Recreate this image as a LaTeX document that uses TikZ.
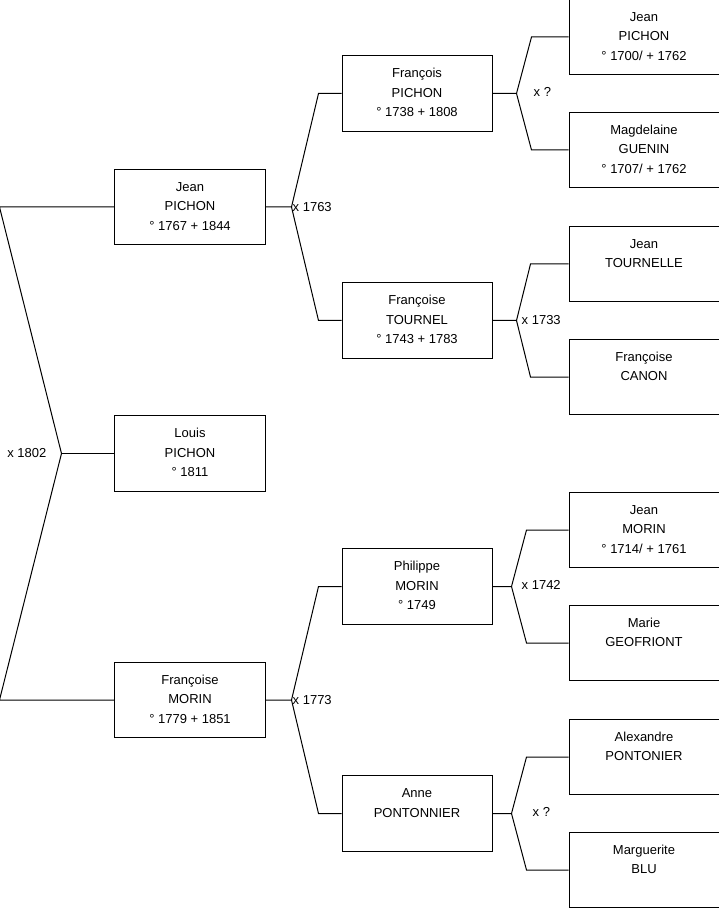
\documentclass[tikz,border=0pt]{standalone}
\usepackage{fontspec}
\setmainfont{Liberation Sans}
\usetikzlibrary{positioning}

\newcommand{\pers}[3]{\strut#1\\\strut#2\\\strut#3}

\begin{document}
\begin{tikzpicture}[
    x=1pt, y=1pt,
    font=\fontsize{13pt}{19.5pt}\selectfont,
    personne/.style={draw, line width=1pt, align=center, inner sep=0pt,
                     minimum width=150pt, minimum height=75.5pt},
    lien/.style={line width=1pt},
    mariage/.style={anchor=west, inner sep=1pt},
    node distance=76pt
  ]
    \useasboundingbox (-190,-454.5) rectangle (529,453.5);
    % enfant et parents
    \node[personne] (lpi) {\pers{Louis}{PICHON}{° 1811}};
    \node[personne, above=170pt of lpi] (jpi) {\pers{Jean}{PICHON}{° 1767 + 1844}};
    \node[personne, below=170pt of lpi] (fmo) {\pers{Françoise}{MORIN}{° 1779 + 1851}};
    % grands-parents
    \node[personne, right=of jpi, yshift=113.5pt]  (fpi) {\pers{François}{PICHON}{° 1738 + 1808}};
    \node[personne, right=of jpi, yshift=-113.5pt] (fto) {\pers{Françoise}{TOURNEL}{° 1743 + 1783}};
    \node[personne, right=of fmo, yshift=113.5pt]  (pmo) {\pers{Philippe}{MORIN}{° 1749}};
    \node[personne, right=of fmo, yshift=-113.5pt] (apt) {\pers{Anne}{PONTONNIER}{}};
    % arriere-grands-parents
    \node[personne, right=of fpi, yshift=56.5pt]  (jpp) {\pers{Jean}{PICHON}{° 1700/ + 1762}};
    \node[personne, right=of fpi, yshift=-56.5pt] (mgu) {\pers{Magdelaine}{GUENIN}{° 1707/ + 1762}};
    \node[personne, right=of fto, yshift=56.5pt]  (jto) {\pers{Jean}{TOURNELLE}{}};
    \node[personne, right=of fto, yshift=-56.5pt] (fca) {\pers{Françoise}{CANON}{}};
    \node[personne, right=of pmo, yshift=56.5pt]  (jmo) {\pers{Jean}{MORIN}{° 1714/ + 1761}};
    \node[personne, right=of pmo, yshift=-56.5pt] (mge) {\pers{Marie}{GEOFRIONT}{}};
    \node[personne, right=of apt, yshift=56.5pt]  (apo) {\pers{Alexandre}{PONTONIER}{}};
    \node[personne, right=of apt, yshift=-56.5pt] (mbl) {\pers{Marguerite}{BLU}{}};
    % mariage 1802
    \coordinate (g1) at ([xshift=-115pt]jpi.west);
    \coordinate (m1) at ([xshift=-53pt]lpi.west);
    \coordinate (g2) at ([xshift=-115pt]fmo.west);
    \draw[lien] (jpi.west) -- (g1) -- (m1) -- (g2) -- (fmo.west);
    \draw[lien] (m1) -- (lpi.west);
    \node[anchor=east, inner sep=1pt] (x1802) at ([xshift=-14pt]m1) {x 1802};
    % mariage 1763
    \coordinate (m2) at ([xshift=26pt]jpi.east);
    \coordinate (g3) at ([xshift=-23pt]fpi.west);
    \coordinate (g4) at ([xshift=-23pt]fto.west);
    \draw[lien] (jpi.east) -- (m2) -- (g3) -- (fpi.west);
    \draw[lien] (m2) -- (g4) -- (fto.west);
    \node[mariage] (x1763) at (m2) {x 1763};
    % mariage 1773
    \coordinate (m3) at ([xshift=26pt]fmo.east);
    \coordinate (g5) at ([xshift=-23pt]pmo.west);
    \coordinate (g6) at ([xshift=-23pt]apt.west);
    \draw[lien] (fmo.east) -- (m3) -- (g5) -- (pmo.west);
    \draw[lien] (m3) -- (g6) -- (apt.west);
    \node[mariage] (x1773) at (m3) {x 1773};
    % mariage inconnu (PICHON x GUENIN)
    \coordinate (m4) at ([xshift=24pt]fpi.east);
    \coordinate (g7) at ([xshift=-37pt]jpp.west);
    \coordinate (g8) at ([xshift=-37pt]mgu.west);
    \draw[lien] (fpi.east) -- (m4) -- (g7) -- (jpp.west);
    \draw[lien] (m4) -- (g8) -- (mgu.west);
    \node[mariage] (xq1) at ([xshift=16pt, yshift=2pt]m4) {x ?};
    % mariage 1733
    \coordinate (m5) at ([xshift=24pt]fto.east);
    \coordinate (g9) at ([xshift=-38pt]jto.west);
    \coordinate (g10) at ([xshift=-38pt]fca.west);
    \draw[lien] (fto.east) -- (m5) -- (g9) -- (jto.west);
    \draw[lien] (m5) -- (g10) -- (fca.west);
    \node[mariage] (x1733) at ([xshift=4pt]m5) {x 1733};
    % mariage 1742
    \coordinate (m6) at ([xshift=19pt]pmo.east);
    \coordinate (g11) at ([xshift=-42pt]jmo.west);
    \coordinate (g12) at ([xshift=-42pt]mge.west);
    \draw[lien] (pmo.east) -- (m6) -- (g11) -- (jmo.west);
    \draw[lien] (m6) -- (g12) -- (mge.west);
    \node[mariage] (x1742) at ([xshift=9pt, yshift=2pt]m6) {x 1742};
    % mariage inconnu (PONTONIER x BLU)
    \coordinate (m7) at ([xshift=19pt]apt.east);
    \coordinate (g13) at ([xshift=-42pt]apo.west);
    \coordinate (g14) at ([xshift=-42pt]mbl.west);
    \draw[lien] (apt.east) -- (m7) -- (g13) -- (apo.west);
    \draw[lien] (m7) -- (g14) -- (mbl.west);
    \node[mariage] (xq2) at ([xshift=20pt, yshift=2pt]m7) {x ?};
  \end{tikzpicture}
\end{document}
